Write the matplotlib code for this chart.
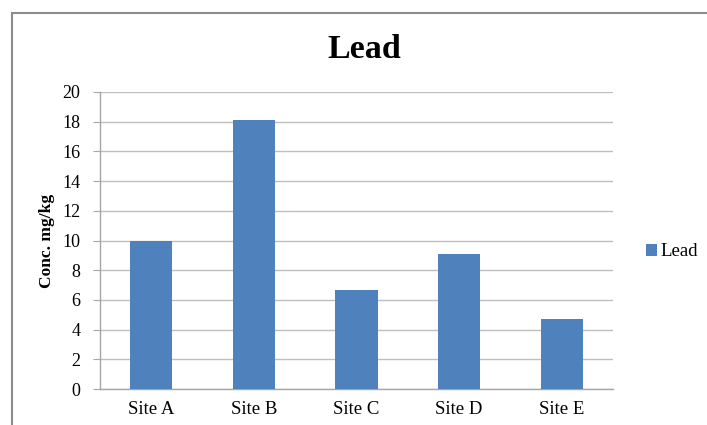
import matplotlib
matplotlib.use("Agg")
import matplotlib.pyplot as plt
from matplotlib.patches import Rectangle

categories = ["Site A", "Site B", "Site C", "Site D", "Site E"]
values = [10.0, 18.1, 6.7, 9.1, 4.7]
series_name = "Lead"
yticks = [0, 2, 4, 6, 8, 10, 12, 14, 16, 18, 20]

plt.rcParams['font.family'] = ['Liberation Serif', 'DejaVu Serif']

W, H = 707, 425
fig = plt.figure(figsize=(W/100, H/100), dpi=100)
ax = fig.add_axes([100/W, 1-389/H, 513/W, (389-92)/H])

x = list(range(len(categories)))
ax.bar(x, values, width=0.41, color="#4F81BD", label=series_name, zorder=3)
ax.set_xlim(-0.5, len(categories)-0.5)
ax.set_ylim(0, 20)
ax.set_yticks(yticks)
ax.set_xticks(x)
ax.set_xticklabels(categories, fontsize=13.5)
ax.tick_params(axis='y', labelsize=13, length=5, color="#A6A6A6", pad=9)
ax.tick_params(axis='x', length=0, pad=9)
ax.yaxis.grid(True, color="#BFBFBF", linewidth=1.0, zorder=0)
for s in ['top', 'right']:
    ax.spines[s].set_visible(False)
for s in ['left', 'bottom']:
    ax.spines[s].set_color("#A6A6A6")
    ax.spines[s].set_linewidth(1.0)
ax.set_ylabel("Conc. mg/kg", fontsize=12.5, fontweight='bold')
ax.yaxis.set_label_coords(-45/513, 0.5)

fig.text(364/W, 1-49/H, "Lead", fontsize=24.5, fontweight='bold', ha='center', va='center')

leg = ax.legend(loc='center left', bbox_to_anchor=(637/W, 1-252/H), bbox_transform=fig.transFigure,
                frameon=False, fontsize=13.5, handlelength=0.55, handleheight=0.55,
                handletextpad=0.2, borderpad=0)

fig.patches.append(Rectangle((11.5/W, -0.05), 1.0, 1-13/H+0.05, transform=fig.transFigure,
                             fill=False, edgecolor="#8C8C8C", linewidth=1.5))

fig.savefig("out.png", dpi=100)
